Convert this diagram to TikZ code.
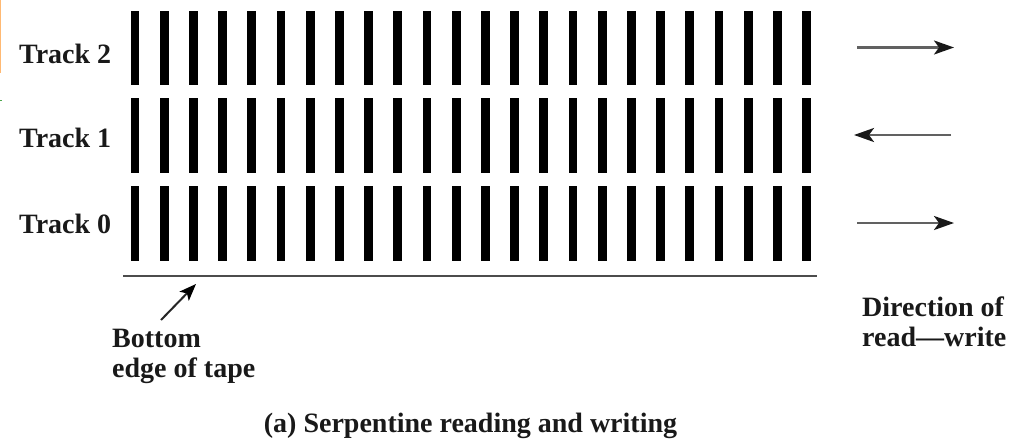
\documentclass[tikz,border=0pt]{standalone}
\usepackage{fontspec}
\setmainfont{Liberation Serif}
\usetikzlibrary{arrows.meta}
\begin{document}
\begin{tikzpicture}[x=1pt,y=-1pt,
  bar/.style={fill=black,draw=none},
  lbl/.style={font=\fontsize{28}{30}\selectfont\bfseries,inner sep=0pt,text=black!90},
  dirarrow/.style={draw=black!62,line width=2.6pt,-{Stealth[length=20pt,width=14pt,inset=5pt,black!90]}},
  tapeedge/.style={draw=black!70,line width=2pt},
  ptr/.style={draw=black!85,line width=2pt,-{Stealth[length=17pt,width=13pt,inset=4pt,black]}}]
\useasboundingbox (0,0) rectangle (1012,442);
\fill[white] (0,0) rectangle (1012,442);
% small edge artefacts
\draw[orange!55,line width=1pt] (0.6,0) -- (0.6,73);
\draw[green!50!black!70,line width=1pt] (0,100) -- (2,100);
% bars
\foreach \tp/\bt in {11/85,98/173,186/261}{
  \foreach \i in {0,...,23}{
    \fill[bar] ({130.6+\i*29.2},\tp) rectangle ({139.4+\i*29.2},\bt);
  }
}
% track labels
\node[lbl,anchor=base west] (t2) at (19,63) {Track 2};
\node[lbl,anchor=base west] (t1) at (19,147) {Track 1};
\node[lbl,anchor=base west] (t0) at (19,233) {Track 0};
% direction arrows
\coordinate (a2s) at (857,47.5);
\coordinate (a2e) at (954,47.5);
\coordinate (a1s) at (951,135);
\coordinate (a1e) at (854,135);
\coordinate (a0s) at (857,223);
\coordinate (a0e) at (954,223);
\draw[dirarrow] (a2s) -- (a2e);
\draw[dirarrow] (a1s) -- (a1e);
\draw[dirarrow] (a0s) -- (a0e);
% tape edge
\coordinate (el) at (123,275.5);
\coordinate (er) at (817,275.5);
\draw[tapeedge] (el) -- (er);
% bottom edge label and pointer
\node[lbl,anchor=north west,align=left] (bot) at (112,329) {Bottom\\edge of tape};
\coordinate (ps) at (161,320);
\coordinate (pe) at (196,284);
\draw[ptr] (ps) -- (pe);
% direction label
\node[lbl,anchor=north west,align=left] (dir) at (862,297) {Direction of\\read—write};
% caption
\node[lbl,anchor=base] (cap) at (470.5,432) {(a) Serpentine reading and writing};
\end{tikzpicture}
\end{document}
